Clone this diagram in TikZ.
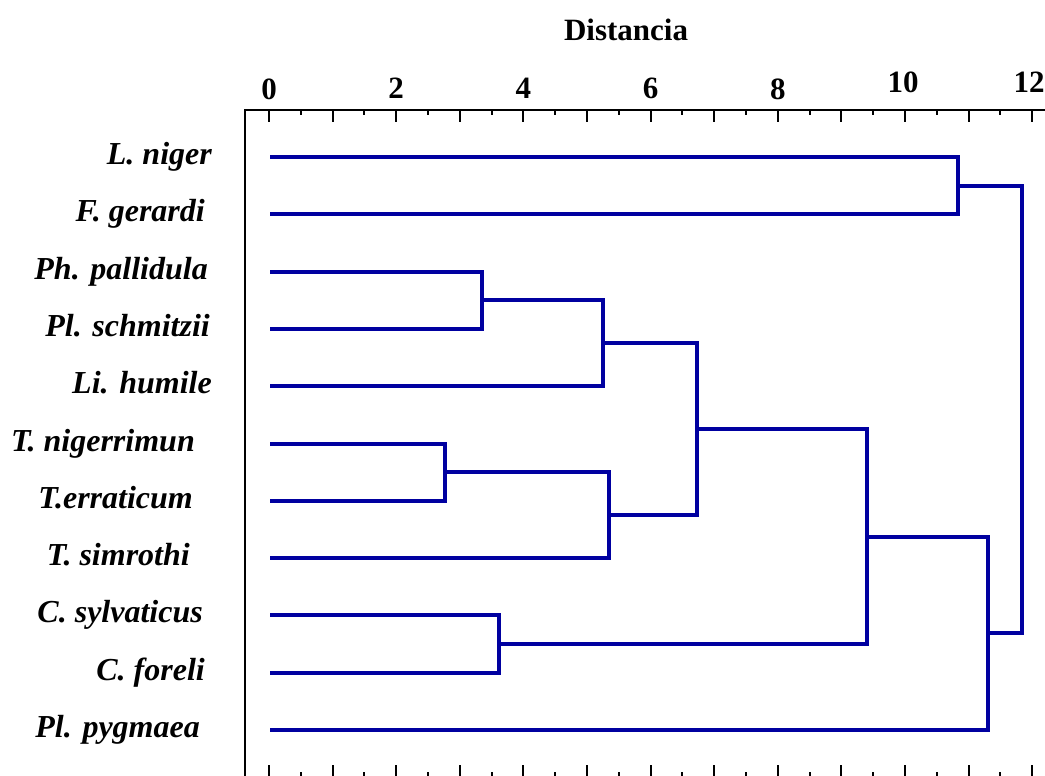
\documentclass[tikz,border=0pt]{standalone}
\usepackage{fontspec}
\setmainfont{Liberation Serif}
\definecolor{dendro}{RGB}{0,0,160}
\begin{document}
\begin{tikzpicture}[x=1pt,y=-1pt,
  branch/.style={draw=dendro,line width=4pt,line join=miter},
  axisline/.style={draw=black,line width=2.5pt},
  tickline/.style={draw=black,line width=2pt},
  leaflabel/.style={anchor=base east,inner sep=0pt,font=\fontsize{32}{38}\selectfont\bfseries\itshape},
  ticklabel/.style={anchor=center,inner sep=0pt,font=\fontsize{31}{37}\selectfont\bfseries}]
\useasboundingbox (0,0) rectangle (1045,776);
% axes
\coordinate (axtl) at (245,110);
\coordinate (axtr) at (1045,110);
\coordinate (axbl) at (245,776);
\draw[axisline] (axtr) -- (axtl) -- (axbl);
\foreach \i in {0,...,24}{
  \pgfmathsetmacro{\xx}{269+31.8*\i}
  \ifodd\i
    \draw[tickline] (\xx,110) -- (\xx,115);
    \draw[tickline] (\xx,772) -- (\xx,776);
  \else
    \draw[tickline] (\xx,110) -- (\xx,122);
    \draw[tickline] (\xx,765) -- (\xx,776);
  \fi
}
\node[ticklabel] (t0) at (269,89) {0};
\node[ticklabel] (t2) at (396.2,88) {2};
\node[ticklabel] (t4) at (523.4,88) {4};
\node[ticklabel] (t6) at (650.6,88) {6};
\node[ticklabel] (t8) at (777.8,89) {8};
\node[ticklabel] (t10) at (903,82) {10};
\node[ticklabel] (t12) at (1029,82) {12};
\node[ticklabel] (title) at (626,30) {Distancia};
% leaf labels
\node[leaflabel] (n1) at (212,164) {L. niger};
\node[leaflabel] (n2) at (205,221) {F. gerardi};
\node[leaflabel] (n3) at (208,279) {Ph. pallidula};
\node[leaflabel] (n4) at (210,336) {Pl. schmitzii};
\node[leaflabel] (n5) at (212,393) {Li. humile};
\node[leaflabel] (n6) at (195,451) {T. nigerrimun};
\node[leaflabel] (n7) at (193,508) {T.erraticum};
\node[leaflabel] (n8) at (190,565) {T. simrothi};
\node[leaflabel] (n9) at (203,622) {C. sylvaticus};
\node[leaflabel] (n10) at (205,680) {C. foreli};
\node[leaflabel] (n11) at (200,737) {Pl. pygmaea};
% leaves
\coordinate (l1) at (270,157);
\coordinate (l2) at (270,214.3);
\coordinate (l3) at (270,271.6);
\coordinate (l4) at (270,328.9);
\coordinate (l5) at (270,386.2);
\coordinate (l6) at (270,443.5);
\coordinate (l7) at (270,500.8);
\coordinate (l8) at (270,558.1);
\coordinate (l9) at (270,615.4);
\coordinate (l10) at (270,672.7);
\coordinate (l11) at (270,730);
% joins
\coordinate (j1) at (958,185.7);
\coordinate (j2) at (482,300.3);
\coordinate (j3) at (603,343.2);
\coordinate (j4) at (445,472.2);
\coordinate (j5) at (609,515.1);
\coordinate (j6) at (697,429.2);
\coordinate (j7) at (499,644);
\coordinate (j8) at (867,536.6);
\coordinate (j9) at (988,633.3);
\coordinate (j10) at (1022,409.5);
% branches
\draw[branch] (l1) -| (j1) |- (l2);
\draw[branch] (l3) -| (j2) |- (l4);
\draw[branch] (j2) -| (j3) |- (l5);
\draw[branch] (l6) -| (j4) |- (l7);
\draw[branch] (j4) -| (j5) |- (l8);
\draw[branch] (j3) -| (j6) |- (j5);
\draw[branch] (l9) -| (j7) |- (l10);
\draw[branch] (j6) -| (j8) |- (j7);
\draw[branch] (j8) -| (j9) |- (l11);
\draw[branch] (j1) -| (j10) |- (j9);
\end{tikzpicture}
\end{document}
